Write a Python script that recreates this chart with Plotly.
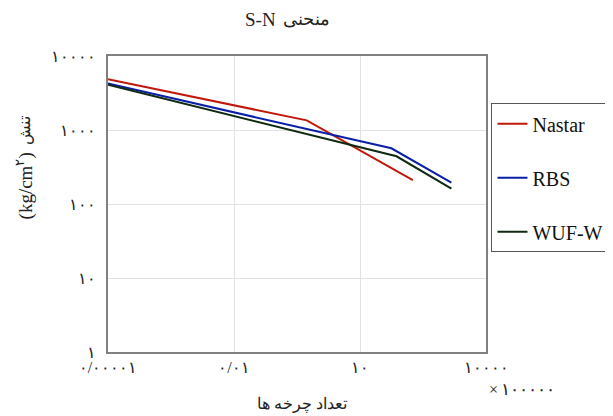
import plotly.graph_objects as go

# Data (x in units of 1e5 cycles, y in kg/cm2)
series_names = ["Nastar", "RBS", "WUF-W"]
nastar_x = [0.00001, 0.54, 181]
nastar_y = [4840, 1350, 210]
rbs_x = [0.00001, 56, 1500]
rbs_y = [4240, 566, 195]
wuf_x = [0.00001, 74, 1500]
wuf_y = [4090, 441, 161]

x_tickvals = [0.00001, 0.01, 10, 10000]
x_ticktext = ["۰/۰۰۰۰۱", "۰/۰۱", "۱۰", "۱۰۰۰۰"]
y_tickvals = [1, 10, 100, 1000, 10000]
y_ticktext = ["۱", "۱۰", "۱۰۰", "۱۰۰۰", "۱۰۰۰۰"]

colors = ["#c0180c", "#0a1fa8", "#0f2a10"]
font_family = "'Times New Roman', 'Liberation Serif', 'DejaVu Serif', serif"

# figure placed by the page with an 8px body margin
W, H = 605, 408
L, T = 99.5, 47.7
PW, PH = 379.0, 296.3
R, B = W - L - PW, H - T - PH


def px(sx):
    return (sx - 8 - L) / PW


def py(sy):
    return (T + PH - (sy - 8)) / PH


fig = go.Figure()
for i, (name, xs, ys) in enumerate(zip(series_names, [nastar_x, rbs_x, wuf_x], [nastar_y, rbs_y, wuf_y])):
    fig.add_trace(go.Scatter(x=xs, y=ys, mode="lines", name=name, legendgroup=name,
                             line=dict(color=colors[i], width=2)))

fig.update_layout(
    width=W, height=H,
    margin=dict(l=L, r=R, t=T, b=B, autoexpand=False),
    paper_bgcolor="white", plot_bgcolor="white",
    font=dict(family=font_family, color="#222222"),
    showlegend=True,
    legend=dict(x=px(492), xanchor="left", y=py(103), yanchor="top",
                bordercolor="#555555", borderwidth=1,
                font=dict(size=20, family=font_family, color="#111111"),
                traceorder="grouped", tracegroupgap=25, itemwidth=30),
)
fig.update_xaxes(type="log", range=[-5, 4], tickvals=x_tickvals, ticktext=x_ticktext,
                 automargin=False, ticklabelstandoff=0,
                 showgrid=True, gridcolor="#e2e2e2", gridwidth=1,
                 showline=True, linecolor="#808080", linewidth=2, mirror=True,
                 ticks="", tickfont=dict(size=16, family=font_family, color="#222222"),
                 zeroline=False)
fig.update_yaxes(type="log", range=[0, 4], tickvals=y_tickvals, ticktext=y_ticktext,
                 automargin=False, ticklabelstandoff=7,
                 showgrid=True, gridcolor="#e2e2e2", gridwidth=1,
                 showline=True, linecolor="#808080", linewidth=2, mirror=True,
                 ticks="", tickfont=dict(size=16, family=font_family, color="#222222"),
                 zeroline=False)

txt = dict(xref="paper", yref="paper", showarrow=False)
# title
fig.add_annotation(text="S-N", x=px(278), y=py(19), xanchor="right", yanchor="middle",
                   font=dict(size=19, family=font_family, color="#222222"), **txt)
fig.add_annotation(text="منحنی", x=px(281), y=py(19), xanchor="left", yanchor="middle",
                   font=dict(size=18, family=font_family, color="#222222"), **txt)
# y axis title
fig.add_annotation(text="(kg/cm<sup>۲</sup>)", textangle=-90, x=px(24), y=py(150),
                   xanchor="center", yanchor="top",
                   font=dict(size=19, family=font_family, color="#222222"), **txt)
fig.add_annotation(text="تنش", textangle=-90, x=px(24), y=py(147),
                   xanchor="center", yanchor="bottom",
                   font=dict(size=16, family=font_family, color="#222222"), **txt)
# x axis title
fig.add_annotation(text="تعداد چرخه ها", x=px(302), y=py(404), xanchor="center", yanchor="middle",
                   font=dict(size=16, family=font_family, color="#222222"), **txt)
# multiplier
fig.add_annotation(text="×", x=px(501), y=py(390), xanchor="right", yanchor="middle",
                   font=dict(size=16, family=font_family, color="#222222"), **txt)
fig.add_annotation(text="۱۰۰۰۰۰", x=px(500), y=py(390), xanchor="left", yanchor="middle",
                   font=dict(size=17, family=font_family, color="#222222"), **txt)

fig.write_html("out.html")
